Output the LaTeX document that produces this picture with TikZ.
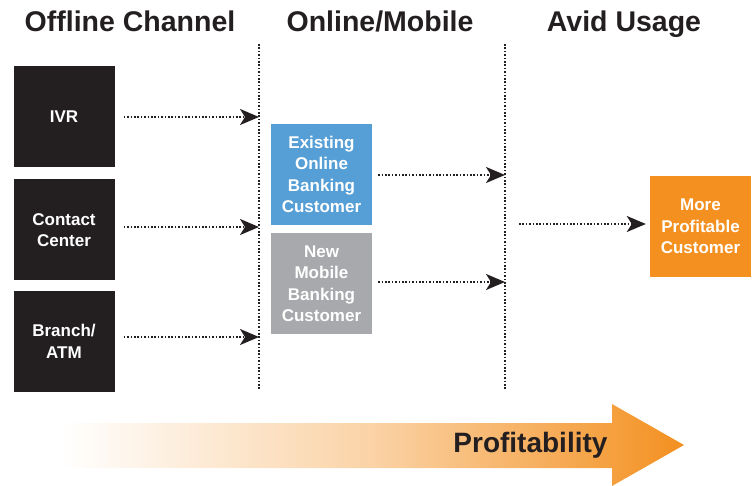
\documentclass[tikz,border=0pt]{standalone}
\usepackage{fontspec}
\setmainfont{Liberation Sans}
\usetikzlibrary{arrows.meta}

\definecolor{chanblack}{HTML}{231F20}
\definecolor{onlineblue}{HTML}{559FD6}
\definecolor{mobilegrey}{HTML}{A7A9AC}
\definecolor{profitorange}{HTML}{F39020}

\tikzset{
  header/.style={font=\bfseries\fontsize{28.5}{30}\selectfont, text=chanblack, anchor=base},
  chanbox/.style={fill=#1, minimum width=101pt, minimum height=101pt, inner sep=0pt,
    text=white, align=center, font=\bfseries\fontsize{17}{21.5}\selectfont},
  divider/.style={line width=2pt, dash pattern=on 1.6pt off 1.8pt, chanblack},
  flow/.style={line width=2pt, dash pattern=on 1.6pt off 1.8pt, chanblack,
    -{Stealth[length=19pt, width=16pt, inset=5pt]}},
}

\begin{document}
\begin{tikzpicture}[x=1pt, y=-1pt]

\path [use as bounding box] (0,0) rectangle (752,486);

% HEADERS
\node [header] (hoff) at (130,32) {Offline Channel};
\node [header] (hon)  at (380,32) {Online/Mobile};
\node [header] (havid) at (624,32) {Avid Usage};

% DIVIDERS
\coordinate (d1top) at (259,44);
\coordinate (d1bot) at (259,389);
\coordinate (d2top) at (505,44);
\coordinate (d2bot) at (505,389);
\draw [divider] (d1top) -- (d1bot);
\draw [divider] (d2top) -- (d2bot);

% OFFLINE CHANNEL
\node [chanbox=chanblack] (ivr) at (64,116.5) {IVR};
\node [chanbox=chanblack] (contact) at (64,230) {Contact\\Center};
\node [chanbox=chanblack] (branch) at (64,341.5) {Branch/\\ATM};

% ONLINE/MOBILE
\node [chanbox=onlineblue] (online) at (321.5,174.5) {Existing\\Online\\Banking\\Customer};
\node [chanbox=mobilegrey] (mobile) at (321.5,283.5) {New\\Mobile\\Banking\\Customer};

% AVID USAGE
\node [chanbox=profitorange] (more) at (700.5,226.5) {More\\Profitable\\Customer};

% FLOWS
\coordinate (ivrend) at (259,117);
\coordinate (contactend) at (259,227);
\coordinate (branchend) at (259,337);
\coordinate (onlineend) at (505,175);
\coordinate (mobileend) at (505,282);
\coordinate (avidstart) at (505,224);
\draw [flow, shorten <=9pt] (ivr.east |- ivrend) -- (ivrend);
\draw [flow, shorten <=9pt] (contact.east |- contactend) -- (contactend);
\draw [flow, shorten <=9pt] (branch.east |- branchend) -- (branchend);
\draw [flow, shorten <=6pt] (online.east |- onlineend) -- (onlineend);
\draw [flow, shorten <=6pt] (mobile.east |- mobileend) -- (mobileend);
\draw [flow, shorten <=14pt, shorten >=4pt] (avidstart) -- (more.west |- avidstart);

% PROFITABILITY
\shade [left color=white, right color=profitorange, middle color=profitorange!40]
  (60,423) -- (612,423) -- (612,404) -- (684,445) -- (612,486) -- (612,468) -- (60,468) -- cycle;
\node [font=\bfseries\fontsize{28}{30}\selectfont, text=chanblack, anchor=east] (profit) at (611,445) {Profitability};

\end{tikzpicture}
\end{document}
